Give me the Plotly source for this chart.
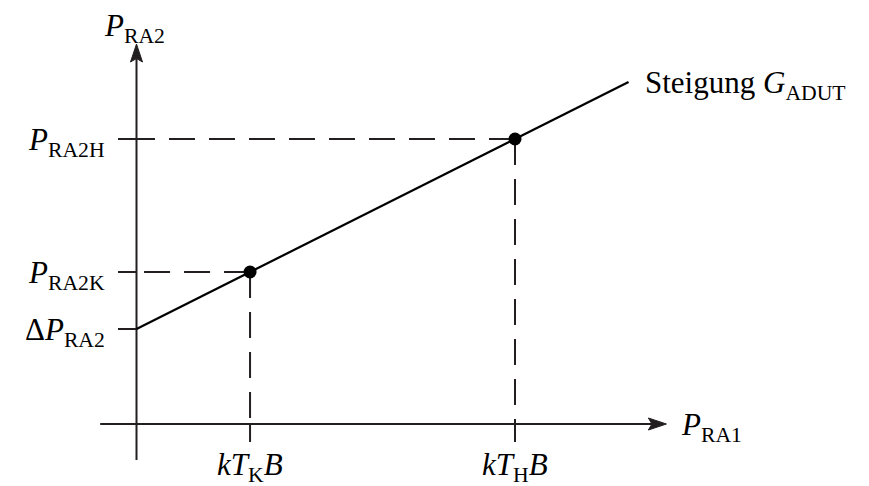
import plotly.graph_objects as go

# ---------------- data (diagram units) ----------------
x_points = [1.5, 5.0]          # kT_K B, kT_H B
y_points = [3.2, 6.0]          # P_RA2K, P_RA2H
x_line = [0.0, 6.5]            # characteristic line start / end
y_line = [2.0, 7.2]            # ΔP_RA2 ... end
x_axis_span = [-0.48, 7.0]
y_axis_span = [-0.76, 8.0]
x_tick_labels = ["<i>kT</i><sub>K</sub><i>B</i>", "<i>kT</i><sub>H</sub><i>B</i>"]
y_tick_labels = ["<i>P</i><sub>RA2K</sub>", "<i>P</i><sub>RA2H</sub>"]
offset_label = "Δ<i>P</i><sub>RA2</sub>"
x_axis_title = "<i>P</i><sub>RA1</sub>"
y_axis_title = "<i>P</i><sub>RA2</sub>"
slope_label = "Steigung <i>G</i><sub>ADUT</sub>"

# ---------------- layout helpers ----------------
W, H = 869, 486
PAGE_OFF = 8.0                 # default body margin of the html page
ORIGIN_PX = (136.5 - PAGE_OFF, 424.0 - PAGE_OFF)
SX, SY = 75.7, 47.5            # pixels per unit
x_range = [-ORIGIN_PX[0] / SX, (W - ORIGIN_PX[0]) / SX]
y_range = [-(H - ORIGIN_PX[1]) / SY, ORIGIN_PX[1] / SY]

AXIS_COL = "#231f20"
LINE_COL = "#000000"
FONT = "Liberation Serif"
FS = 31

fig = go.Figure()

def seg(xs, ys, color=AXIS_COL, width=2, dash="solid"):
    fig.add_trace(go.Scatter(x=xs, y=ys, mode="lines",
                             line=dict(color=color, width=width, dash=dash),
                             hoverinfo="skip", showlegend=False))

# arrow head geometry in px
AL, AHW, ANOTCH = 18.0, 6.0, 3.5

# axes lines
seg([x_axis_span[0], x_axis_span[1] - (AL - ANOTCH) / SX], [0, 0])
seg([0, 0], [y_axis_span[0], y_axis_span[1] - (AL - ANOTCH) / SY])

# arrow heads (filled)
tx = x_axis_span[1]
fig.add_trace(go.Scatter(
    x=[tx, tx - AL / SX, tx - (AL - ANOTCH) / SX, tx - AL / SX, tx],
    y=[0, AHW / SY, 0, -AHW / SY, 0],
    mode="lines", fill="toself", fillcolor=AXIS_COL,
    line=dict(color=AXIS_COL, width=1), hoverinfo="skip", showlegend=False))
ty = y_axis_span[1]
fig.add_trace(go.Scatter(
    x=[0, AHW / SX, 0, -AHW / SX, 0],
    y=[ty, ty - AL / SY, ty - (AL - ANOTCH) / SY, ty - AL / SY, ty],
    mode="lines", fill="toself", fillcolor=AXIS_COL,
    line=dict(color=AXIS_COL, width=1), hoverinfo="skip", showlegend=False))

TICK_X = 18.5 / SX
TICK_Y = 18.0 / SY
DASH = "26px,14px"

# y ticks (ΔP and the two levels) with dashed guides
seg([-TICK_X, 0], [y_line[0], y_line[0]])
for xv, yv in zip(x_points, y_points):
    seg([-TICK_X, 0], [yv, yv])
    seg([xv, 0], [yv, yv], dash=DASH)
    seg([xv, xv], [yv, 0], dash=DASH)
    seg([xv, xv], [0, -TICK_Y])

# characteristic line
seg(x_line, y_line, color=LINE_COL, width=2.2)

# points
fig.add_trace(go.Scatter(x=x_points, y=y_points, mode="markers",
                         marker=dict(color=LINE_COL, size=13),
                         hoverinfo="skip", showlegend=False))

font = dict(family=FONT, size=FS, color="#000000")
ann = []
for xv, lab in zip(x_points, x_tick_labels):
    ann.append(dict(x=xv, y=0, text=lab, xanchor="center", yanchor="top",
                    yshift=-21, showarrow=False, font=font))
for yv, lab in zip(y_points, y_tick_labels):
    ann.append(dict(x=0, y=yv, text=lab, xanchor="right", yanchor="middle",
                    xshift=-30, yshift=-3, showarrow=False, font=font))
ann.append(dict(x=0, y=y_line[0], text=offset_label, xanchor="right", yanchor="middle",
                xshift=-30, yshift=-3, showarrow=False, font=font))
ann.append(dict(x=x_axis_span[1], y=0, text=x_axis_title, xanchor="left", yanchor="middle",
                xshift=13, yshift=-3, showarrow=False, font=font))
ann.append(dict(x=0, y=y_axis_span[1], text=y_axis_title, xanchor="center", yanchor="bottom",
                xshift=-2, yshift=-6, showarrow=False, font=font))
ann.append(dict(x=x_line[1], y=y_line[1], text=slope_label, xanchor="left", yanchor="middle",
                xshift=14, yshift=-3, showarrow=False, font=font))
for a in ann:
    a["xref"] = "x"
    a["yref"] = "y"

fig.update_layout(
    width=W, height=H, margin=dict(l=0, r=0, t=0, b=0),
    paper_bgcolor="white", plot_bgcolor="white",
    xaxis=dict(range=x_range, visible=False, fixedrange=True),
    yaxis=dict(range=y_range, visible=False, fixedrange=True),
    annotations=ann, showlegend=False,
)

fig.write_html("out.html")
